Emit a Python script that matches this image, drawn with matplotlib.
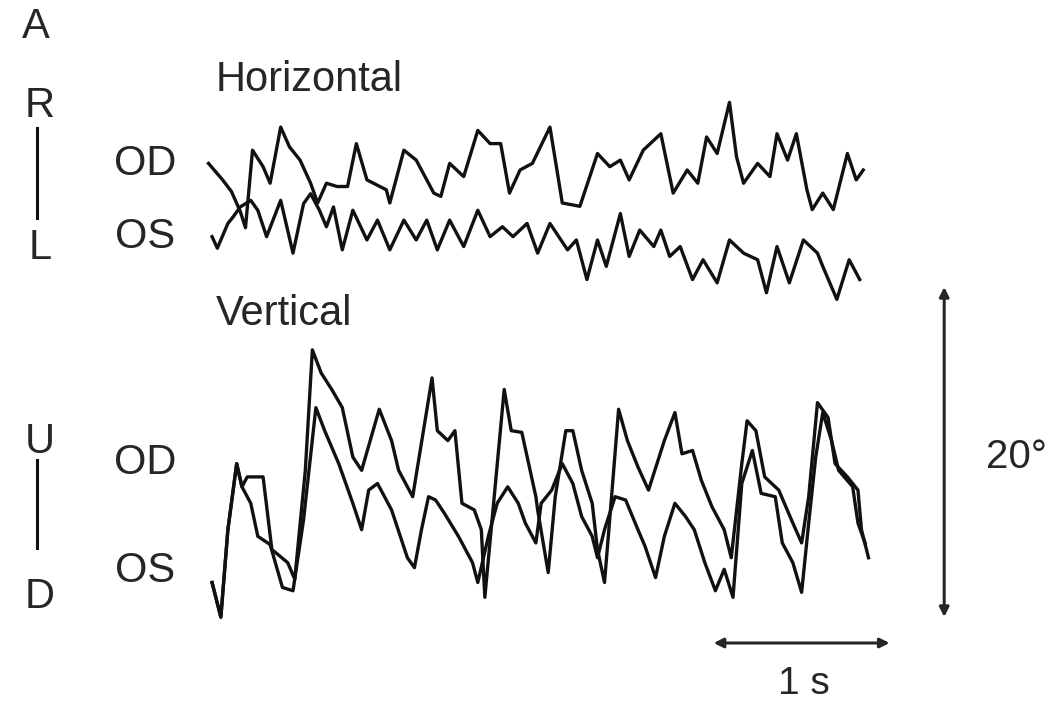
import numpy as np
import matplotlib
matplotlib.use('Agg')
import matplotlib.pyplot as plt

plt.rcParams['font.family'] = ['Liberation Sans', 'DejaVu Sans']

# horizontal eye position, right eye (OD) - time in s, position in deg
h_od_t = np.array([0.02, 0.10, 0.15, 0.20, 0.23, 0.27, 0.33, 0.37, 0.43, 0.48, 0.54, 0.60, 0.64, 0.69,
                   0.75, 0.81, 0.86, 0.92, 1.03, 1.05,
                   1.13, 1.20, 1.30, 1.34, 1.39, 1.47, 1.55, 1.62, 1.68, 1.73, 1.79, 1.86, 1.96, 2.03,
                   2.13, 2.23, 2.30, 2.36, 2.41, 2.49, 2.59, 2.66, 2.74, 2.80, 2.85, 2.91, 2.98, 3.02,
                   3.06, 3.14, 3.21, 3.25, 3.31, 3.36, 3.42, 3.45, 3.51, 3.57, 3.65, 3.70, 3.74])
h_od = np.array([0.4, -0.6, -1.3, -2.5, -3.5, 1.2, 0.2, -0.8, 2.6, 1.4, 0.6, -0.8, -2.0, -0.8,
                 -1.0, -1.0, 1.6, -0.6, -1.2, -2.0,
                 1.2, 0.6, -1.4, -1.6, 0.4, -0.4, 2.4, 1.6, 1.6, -1.4, 0.0, 0.4, 2.6, -2.0,
                 -2.2, 1.0, 0.2, 0.6, -0.6, 1.2, 2.2, -1.4, 0.0, -0.8, 2.0, 1.0, 4.1, 0.8,
                 -0.8, 0.4, -0.4, 2.2, 0.6, 2.2, -1.2, -2.4, -1.4, -2.4, 1.0, -0.6, 0.0])

# horizontal eye position, left eye (OS)
h_os_t = np.array([0.04, 0.07, 0.13, 0.16, 0.20, 0.26, 0.30, 0.35, 0.43, 0.50, 0.56, 0.60, 0.65, 0.69,
                   0.73, 0.78, 0.84, 0.92, 0.98, 1.05, 1.13, 1.20, 1.26, 1.32, 1.39, 1.47, 1.55, 1.62,
                   1.69, 1.75, 1.83, 1.89, 1.96, 2.06, 2.11, 2.17, 2.23, 2.28, 2.36, 2.41, 2.47, 2.55,
                   2.59, 2.64, 2.70, 2.77, 2.83, 2.91, 2.98, 3.06, 3.14, 3.19, 3.25, 3.32, 3.40, 3.48,
                   3.51, 3.59, 3.66, 3.72])
h_os = np.array([-0.1, -0.8, 0.7, 1.1, 1.7, 2.1, 1.5, -0.1, 2.1, -1.1, 1.9, 2.5, 1.5, 0.5,
                 1.7, -0.9, 1.5, -0.3, 0.9, -0.9, 0.9, -0.3, 0.9, -0.9, 0.9, -0.7, 1.5, -0.1,
                 0.5, -0.1, 0.7, -1.1, 0.7, -0.9, -0.3, -2.7, -0.3, -1.9, 1.3, -1.3, 0.3, -0.7,
                 0.3, -1.3, -0.7, -2.7, -1.5, -2.9, -0.3, -1.1, -1.5, -3.5, -0.7, -2.9, -0.3, -1.1,
                 -1.9, -3.9, -1.5, -2.7])

# vertical eye position, OD
v_od_t = np.array([0.04, 0.09, 0.13, 0.18, 0.21, 0.24, 0.33, 0.38, 0.47, 0.51, 0.57, 0.61, 0.66, 0.72,
                   0.78, 0.84, 0.89, 0.99, 1.06, 1.10, 1.18, 1.29, 1.32, 1.38, 1.42, 1.46, 1.53, 1.57,
                   1.59, 1.70, 1.74, 1.80, 1.88, 1.89, 1.95, 1.99, 2.05, 2.09, 2.14, 2.20, 2.23, 2.27,
                   2.31, 2.35, 2.40, 2.46, 2.52, 2.61, 2.67, 2.71, 2.77, 2.82, 2.88, 2.95, 2.99, 3.05,
                   3.08, 3.13, 3.18, 3.26, 3.34, 3.39, 3.43, 3.48, 3.54, 3.58, 3.65, 3.71, 3.73, 3.77])
v_od = np.array([-5.0, -7.1, -1.8, 2.2, 0.8, 1.4, 1.4, -3.0, -3.8, -4.8, 1.8, 9.1, 7.7, 6.7,
                 5.6, 2.6, 1.8, 5.5, 3.6, 1.8, 0.2, 7.4, 4.2, 3.6, 4.2, -0.2, -0.6, -1.8,
                 -5.9, 6.7, 4.2, 4.1, 0.2, -0.6, -4.4, 0.2, 4.2, 4.2, 1.8, -0.2, -3.0, -5.0,
                 0.2, 5.5, 3.6, 2.0, 0.6, 3.6, 5.3, 2.8, 3.0, 1.2, -0.4, -1.8, -3.5, 2.2,
                 4.8, 4.2, 1.4, 0.6, -1.4, -2.6, 0.2, 5.9, 5.0, 2.2, 1.4, 0.6, -1.8, -3.5])

# vertical eye position, OS
v_os_t = np.array([0.04, 0.09, 0.13, 0.18, 0.21, 0.26, 0.30, 0.37, 0.44, 0.50, 0.56, 0.63, 0.68, 0.76,
                   0.84, 0.89, 0.93, 0.98, 1.06, 1.15, 1.19, 1.23, 1.27, 1.31, 1.36, 1.44, 1.52, 1.55,
                   1.61, 1.66, 1.72, 1.78, 1.82, 1.88, 1.91, 1.97, 2.03, 2.09, 2.14, 2.20, 2.23, 2.27,
                   2.33, 2.39, 2.46, 2.50, 2.56, 2.61, 2.67, 2.73, 2.78, 2.84, 2.90, 2.95, 3.00, 3.05,
                   3.11, 3.16, 3.24, 3.28, 3.34, 3.39, 3.43, 3.47, 3.51, 3.56, 3.60, 3.68, 3.71, 3.75])
v_os = np.array([-5.0, -7.1, -1.8, 2.2, 0.8, -0.2, -2.2, -2.7, -5.3, -5.5, -1.2, 5.6, 4.2, 2.2,
                 -0.2, -1.8, 0.6, 1.0, -0.6, -3.5, -4.1, -1.8, 0.2, 0.0, -0.8, -2.2, -3.8, -5.0,
                 -2.2, -0.2, 0.8, -0.2, -1.4, -2.6, -0.2, 0.6, 2.2, 1.0, -1.0, -2.2, -3.5, -1.8,
                 0.2, 0.0, -1.8, -2.8, -4.7, -2.2, -0.2, -1.0, -1.8, -3.8, -5.5, -4.2, -5.9, 1.0,
                 3.0, 0.4, 0.2, -2.6, -3.8, -5.6, -1.4, 2.6, 5.3, 3.6, 1.8, 0.8, -1.4, -2.6])

scale_time = 1.0   # s
scale_angle = 20   # deg

W, H = 1053, 701
fig = plt.figure(figsize=(W / 100, H / 100), dpi=100)
ax = fig.add_axes([0, 0, 1, 1])
# x: seconds (176 px per s), y: degrees (16.5 px per deg)
ax.set_xlim(-205 / 176, (W - 205) / 176)
ax.set_ylim(0, H / 16.5)
ax.axis('off')

def fy(py):
    return (H - py) / 16.5

lc = '#111111'
tc = '#262626'
ax.plot(h_od_t, h_od + fy(170), color=lc, lw=2.4)
ax.plot(h_os_t, h_os + fy(235), color=lc, lw=2.4)
ax.plot(v_od_t, v_od + fy(500), color=lc, lw=2.4)
ax.plot(v_os_t, v_os + fy(500), color=lc, lw=2.4)

# scale bars
x1 = 2.89
ax.annotate('', xy=(x1, fy(643)), xytext=(x1 + scale_time, fy(643)),
            arrowprops=dict(arrowstyle='<|-|>', color=tc, lw=2.2, mutation_scale=14, shrinkA=0, shrinkB=0))
y1 = fy(617)
ax.annotate('', xy=(4.2, y1), xytext=(4.2, y1 + scale_angle),
            arrowprops=dict(arrowstyle='<|-|>', color=tc, lw=2.2, mutation_scale=14, shrinkA=0, shrinkB=0))

def ftext(px, py, s, size=30, **kw):
    ax.text(px / W, 1 - py / H, s, transform=ax.transAxes, color=tc, fontsize=size, **kw)

ftext(36, 27, 'A', ha='center', va='center')
ftext(40, 106, 'R', ha='center', va='center')
ftext(40, 248, 'L', ha='center', va='center')
ftext(40, 442, 'U', ha='center', va='center')
ftext(40, 597, 'D', ha='center', va='center')
ftext(145, 164, 'OD', ha='center', va='center')
ftext(145, 237, 'OS', ha='center', va='center')
ftext(145, 463, 'OD', ha='center', va='center')
ftext(145, 571, 'OS', ha='center', va='center')
ftext(216, 80, 'Horizontal', ha='left', va='center')
ftext(216, 314, 'Vertical', ha='left', va='center')
ftext(804, 684, '1 s', size=28, ha='center', va='center')
ftext(986, 457, '20°', size=29, ha='left', va='center')

for y_top, y_bot in [(128, 218), (460, 548)]:
    ax.plot([37 / W, 37 / W], [1 - y_top / H, 1 - y_bot / H], transform=ax.transAxes, color=lc, lw=2.2)

plt.savefig('out.png', dpi=100)
